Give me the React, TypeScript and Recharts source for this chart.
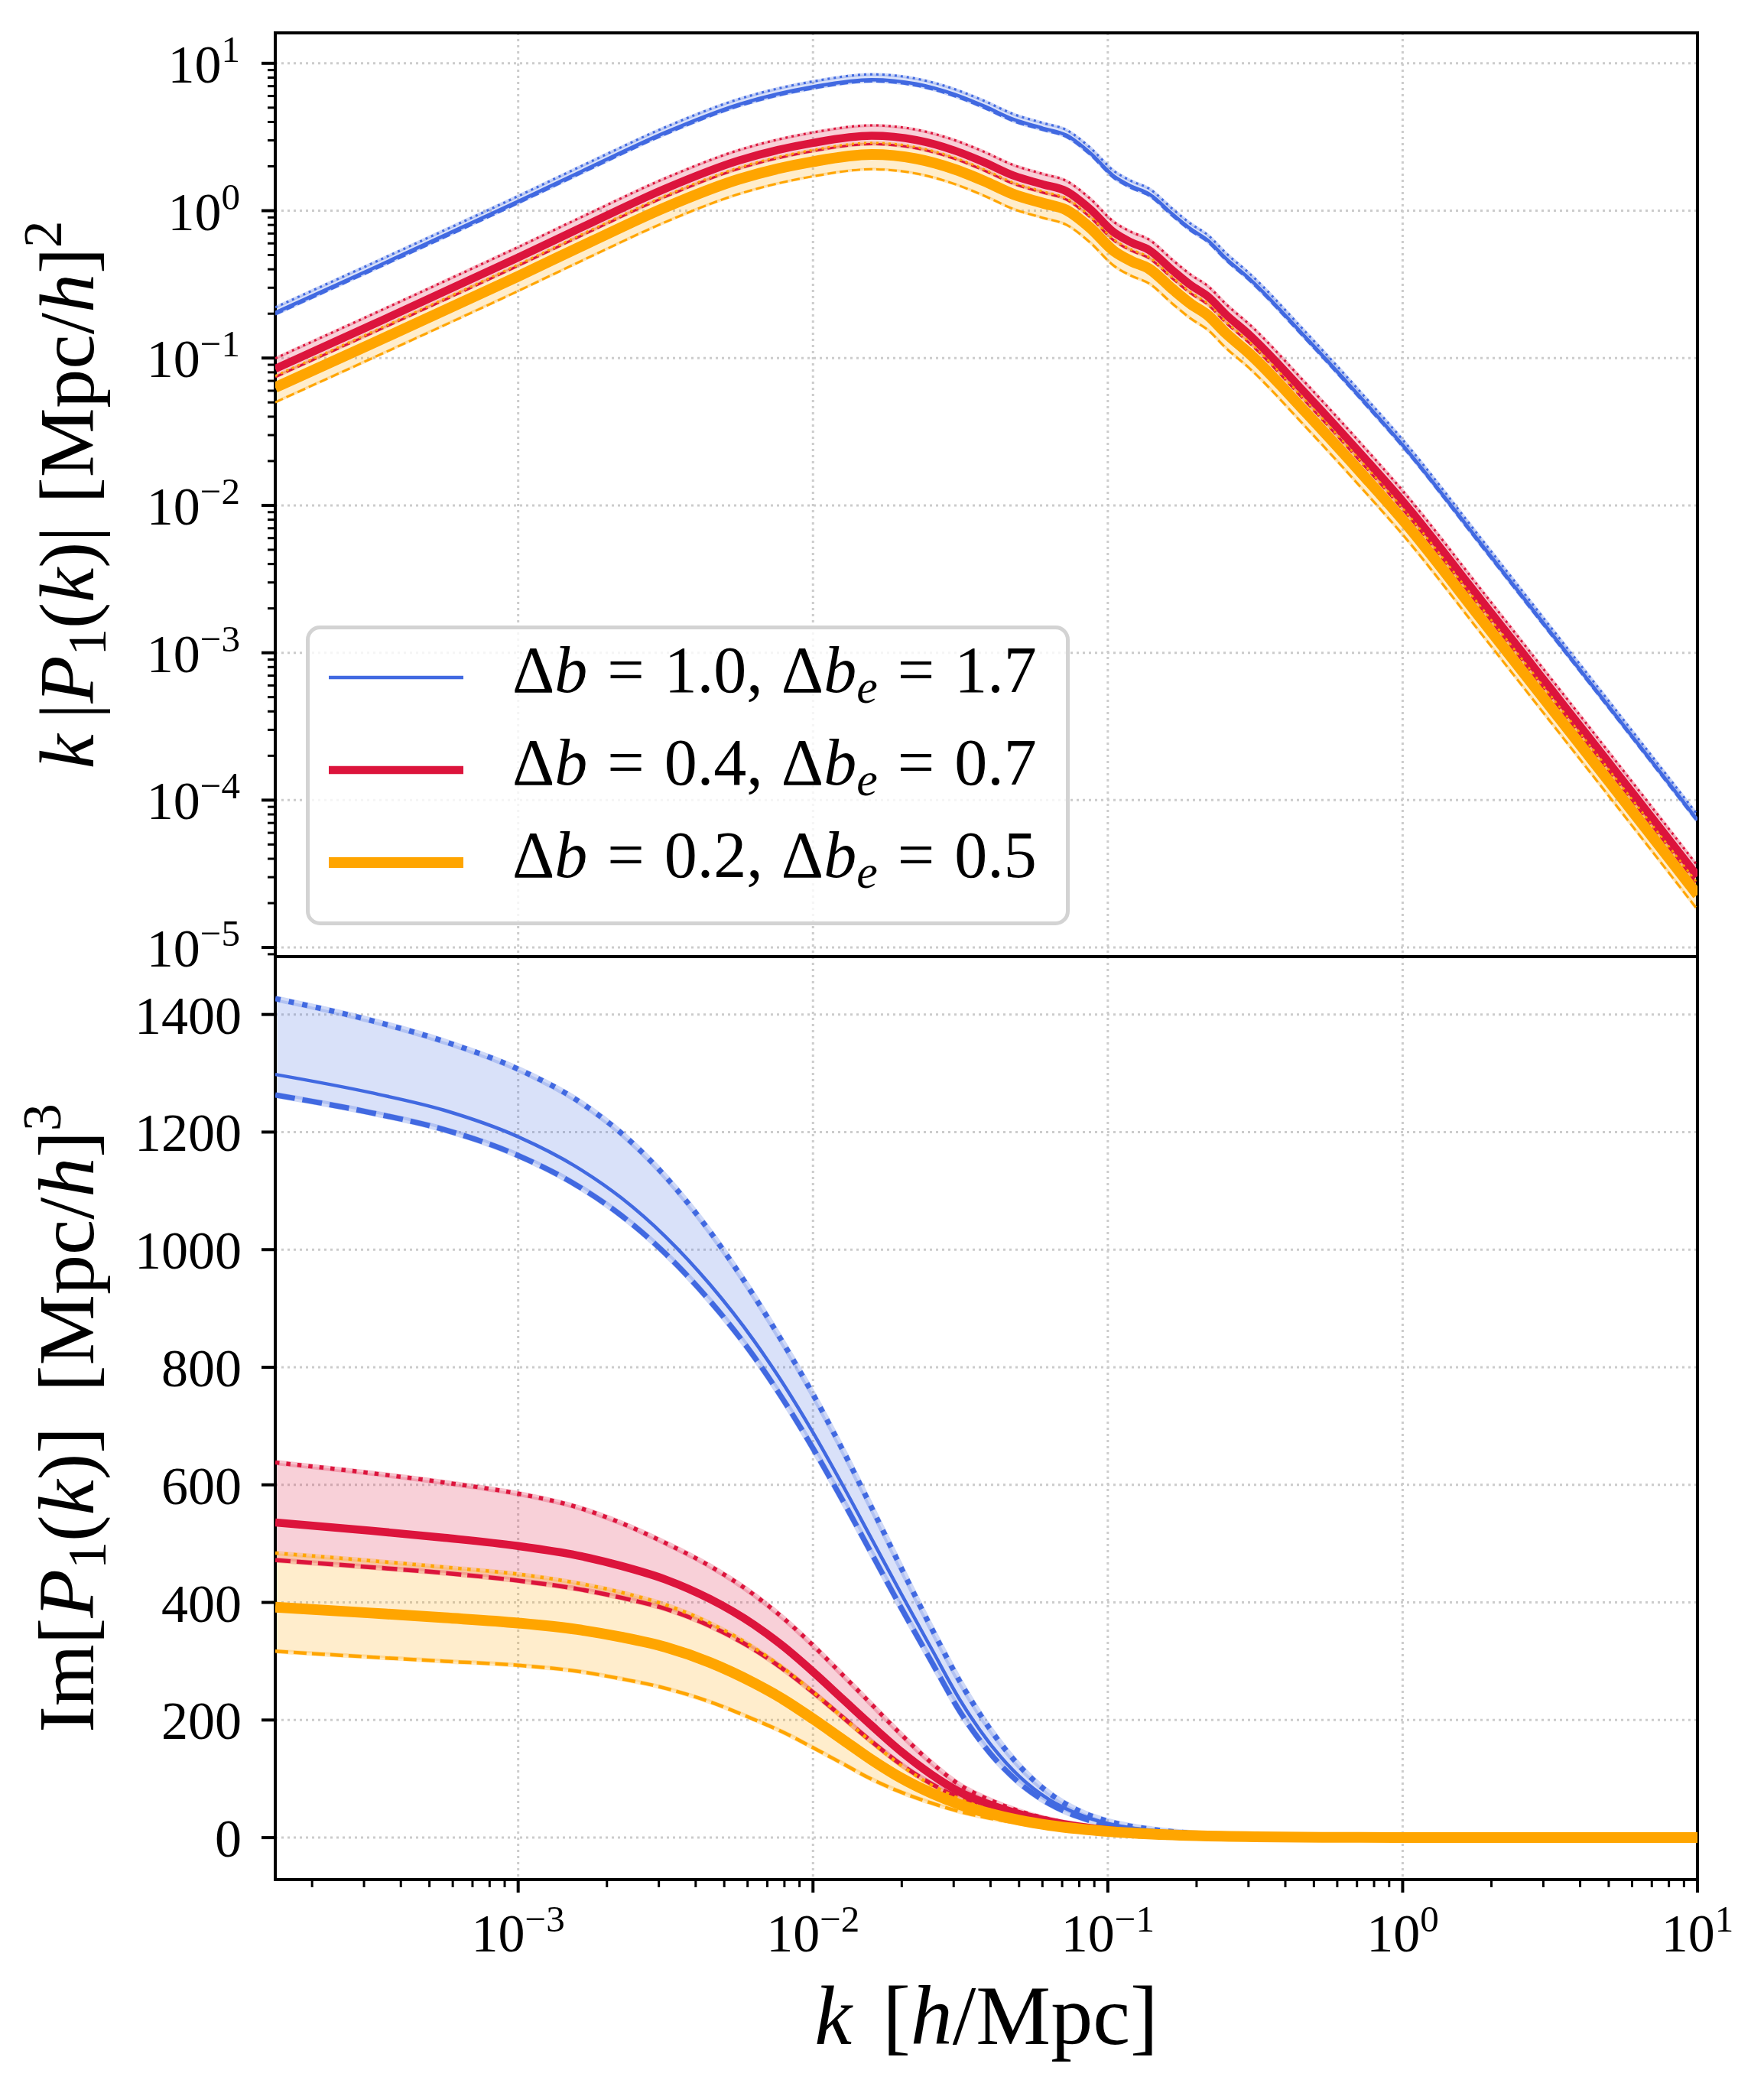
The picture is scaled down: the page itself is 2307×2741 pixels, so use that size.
import React from "react";
import {
  ComposedChart,
  Line,
  Area,
  XAxis,
  YAxis,
  CartesianGrid,
  ReferenceArea,
  Legend,
  Label,
} from "recharts";

const FONT = "'Liberation Serif', 'DejaVu Serif', serif";
const BLUE = "#4169E1";
const RED = "#DC143C";
const ORANGE = "#FFA500";

const K_MIN = 1.5e-4;
const K_MAX = 10;
const TOP_Y_DOMAIN = [8.67e-6, 16.09];
const BOTTOM_Y_DOMAIN = [-71.4, 1498.4];

// layout (page pixels)
const W = 2307;
const PLOT_LEFT = 360;
const RIGHT_GAP = 87;
const PLOT_TOP = 43;
const SPLIT = 1251;
const PLOT_BOTTOM = 2458;
const PAGE_H = 2741;
const TOP_OVERHANG = 60; // room for the 10^-5 label below the split

// ---- top panel: k |P1(k)| (log10 values) ----
const kTop = [
  1.5e-4, 3.16e-4, 1.0e-3, 1.78e-3, 3.16e-3, 5.62e-3, 1.0e-2, 1.58e-2, 2.24e-2, 3.02e-2,
  3.8e-2, 4.79e-2, 6.03e-2, 7.24e-2, 8.71e-2, 0.105, 0.12, 0.138, 0.166, 0.191,
  0.219, 0.251, 0.302, 0.468, 0.741, 1.0, 1.86, 2.95, 4.68, 7.41, 10,
];
const topBlueHiLog = [
  -0.656, -0.362, 0.099, 0.337, 0.567, 0.758, 0.877, 0.925, 0.896, 0.825,
  0.746, 0.655, 0.595, 0.548, 0.428, 0.269, 0.202, 0.15, 0.011, -0.088,
  -0.167, -0.286, -0.425, -0.822, -1.259, -1.554, -2.234, -2.744, -3.254, -3.764, -4.099,
];
const topBlueMidLog = [
  -0.692, -0.398, 0.063, 0.301, 0.531, 0.722, 0.841, 0.889, 0.86, 0.789,
  0.71, 0.619, 0.559, 0.512, 0.392, 0.233, 0.166, 0.114, -0.025, -0.124,
  -0.203, -0.322, -0.461, -0.858, -1.295, -1.59, -2.27, -2.78, -3.29, -3.8, -4.135,
];
const topBlueLoLog = [
  -0.704, -0.41, 0.051, 0.289, 0.519, 0.71, 0.829, 0.877, 0.848, 0.777,
  0.698, 0.607, 0.547, 0.5, 0.38, 0.221, 0.154, 0.102, -0.037, -0.136,
  -0.215, -0.334, -0.473, -0.87, -1.307, -1.602, -2.282, -2.792, -3.302, -3.812, -4.147,
];
const topRedHiLog = [
  -1.002, -0.708, -0.247, -0.009, 0.221, 0.412, 0.531, 0.579, 0.55, 0.479,
  0.4, 0.309, 0.249, 0.202, 0.082, -0.077, -0.144, -0.196, -0.335, -0.434,
  -0.513, -0.632, -0.771, -1.168, -1.605, -1.9, -2.58, -3.09, -3.6, -4.11, -4.445,
];
const topRedMidLog = [
  -1.073, -0.779, -0.318, -0.08, 0.15, 0.341, 0.46, 0.508, 0.479, 0.408,
  0.329, 0.238, 0.178, 0.131, 0.011, -0.148, -0.215, -0.267, -0.406, -0.505,
  -0.584, -0.703, -0.842, -1.239, -1.676, -1.971, -2.651, -3.161, -3.671, -4.181, -4.516,
];
const topRedLoLog = [
  -1.129, -0.835, -0.374, -0.136, 0.094, 0.285, 0.404, 0.452, 0.423, 0.352,
  0.273, 0.182, 0.122, 0.075, -0.045, -0.204, -0.271, -0.323, -0.462, -0.561,
  -0.64, -0.759, -0.898, -1.295, -1.732, -2.027, -2.707, -3.217, -3.727, -4.237, -4.572,
];
const topOrangeHiLog = [
  -1.121, -0.827, -0.366, -0.128, 0.102, 0.293, 0.412, 0.46, 0.431, 0.36,
  0.281, 0.19, 0.13, 0.083, -0.037, -0.196, -0.263, -0.315, -0.454, -0.553,
  -0.632, -0.751, -0.89, -1.287, -1.724, -2.019, -2.699, -3.209, -3.719, -4.229, -4.564,
];
const topOrangeMidLog = [
  -1.2, -0.906, -0.445, -0.207, 0.023, 0.214, 0.333, 0.381, 0.352, 0.281,
  0.202, 0.111, 0.051, 0.004, -0.116, -0.275, -0.342, -0.394, -0.533, -0.632,
  -0.711, -0.83, -0.969, -1.366, -1.803, -2.098, -2.778, -3.288, -3.798, -4.308, -4.643,
];
const topOrangeLoLog = [
  -1.3, -1.006, -0.545, -0.307, -0.077, 0.114, 0.233, 0.281, 0.252, 0.181,
  0.102, 0.011, -0.049, -0.096, -0.216, -0.375, -0.442, -0.494, -0.633, -0.732,
  -0.811, -0.93, -1.069, -1.466, -1.903, -2.198, -2.878, -3.388, -3.898, -4.408, -4.743,
];

// ---- bottom panel: Im[P1(k)] ----
const kBottom = [
  1.5e-4, 3.162e-4, 5.623e-4, 1e-3, 1.585e-3, 2.239e-3, 3.162e-3, 4.467e-3, 6.31e-3, 7.943e-3,
  1e-2, 1.259e-2, 1.585e-2, 1.995e-2, 2.512e-2, 3.162e-2, 3.981e-2, 5.012e-2, 6.31e-2, 7.943e-2,
  0.1, 0.1413, 0.1995, 0.3162, 0.5623, 1, 3.162, 10,
];
const imBlueHi = [
  1427, 1390, 1354, 1307, 1254, 1198, 1124, 1031, 921, 840,
  754, 660, 560, 458, 358, 264, 185, 122, 76, 46,
  28, 14, 7, 3, 1.2, 0.5, 0, 0,
];
const imBlueMid = [
  1298, 1267, 1237, 1192, 1140, 1088, 1022, 941, 845, 771,
  689, 600, 507, 414, 323, 233, 160, 104, 65, 40,
  24, 12, 6, 2.5, 1, 0.4, 0, 0,
];
const imBlueLo = [
  1263, 1233, 1204, 1160, 1109, 1058, 993, 913, 818, 744,
  662, 574, 482, 390, 301, 213, 144, 93, 58, 35.5,
  21, 10.5, 5.2, 2.2, 0.9, 0.35, 0, 0,
];
const imRedHi = [
  638, 620, 604, 585, 562, 535, 501, 462, 413, 373,
  327, 277, 226, 175, 128, 89, 64, 45, 31.5, 21.5,
  15, 8.7, 5.1, 2.2, 0.9, 0.3, 0, 0,
];
const imRedMid = [
  536, 522, 510, 496, 480, 462, 439, 406, 362, 325,
  282, 236, 190, 146, 108, 77, 56, 40, 28, 19,
  13, 7.5, 4.5, 2, 0.8, 0.3, 0, 0,
];
const imRedLo = [
  472, 460, 450, 437, 423, 408, 389, 360, 320, 286,
  247, 205, 163, 124, 92, 67, 49, 35, 24.5, 16.5,
  11.5, 6.5, 3.9, 1.7, 0.7, 0.3, 0, 0,
];
const imOrangeHi = [
  484, 471, 460, 448, 433, 417, 396, 365, 323, 288,
  248, 205, 162, 122.5, 90, 65, 47, 33, 22.5, 15,
  10.5, 6, 3.6, 1.6, 0.7, 0.3, 0, 0,
];
const imOrangeMid = [
  392, 382, 374, 365, 354, 341, 324, 298, 263, 235,
  202, 167, 132, 101, 76, 56, 41, 29.5, 21, 15,
  10.5, 6, 3.3, 1.4, 0.5, 0.2, 0, 0,
];
const imOrangeLo = [
  317, 307, 300, 293, 283, 270, 254, 231, 201, 179,
  153, 126, 99, 77, 59, 44, 33, 24.5, 17.5, 12.5,
  9, 5, 2.8, 1.2, 0.4, 0.2, 0, 0,
];

// ---- ticks and legend text ----
const xMajor = [1e-3, 1e-2, 1e-1, 1, 10];
const xMinor = [-4, -3, -2, -1, 0]
  .flatMap((e) => [2, 3, 4, 5, 6, 7, 8, 9].map((m) => m * Math.pow(10, e)))
  .filter((v) => v >= K_MIN);
const xTicks = [...xMajor, ...xMinor].sort((a, b) => a - b);
const yTopMajor = [1e-5, 1e-4, 1e-3, 1e-2, 1e-1, 1, 10];
const yTopMinor = [-6, -5, -4, -3, -2, -1, 0]
  .flatMap((e) => [2, 3, 4, 5, 6, 7, 8, 9].map((m) => m * Math.pow(10, e)))
  .filter((v) => v >= TOP_Y_DOMAIN[0] && v <= TOP_Y_DOMAIN[1]);
const yTopTicks = [...yTopMajor, ...yTopMinor].sort((a, b) => a - b);
const yBottomTicks = [0, 200, 400, 600, 800, 1000, 1200, 1400];

const legendDb = ["1.0", "0.4", "0.2"];
const legendDbe = ["1.7", "0.7", "0.5"];
const legendColors = [BLUE, RED, ORANGE];
const legendWidths = [4.5, 10.5, 14];

const up = (v: number) => Math.pow(10, v);

const topRows = kTop.map((k, i) => ({
  k,
  bHi: up(topBlueHiLog[i]),
  bMid: up(topBlueMidLog[i]),
  bLo: up(topBlueLoLog[i]),
  rHi: up(topRedHiLog[i]),
  rMid: up(topRedMidLog[i]),
  rLo: up(topRedLoLog[i]),
  oHi: up(topOrangeHiLog[i]),
  oMid: up(topOrangeMidLog[i]),
  oLo: up(topOrangeLoLog[i]),
  bBand: [up(topBlueLoLog[i]), up(topBlueHiLog[i])],
  rBand: [up(topRedLoLog[i]), up(topRedHiLog[i])],
  oBand: [up(topOrangeLoLog[i]), up(topOrangeHiLog[i])],
}));

const bottomRows = kBottom.map((k, i) => ({
  k,
  bHi: imBlueHi[i],
  bMid: imBlueMid[i],
  bLo: imBlueLo[i],
  rHi: imRedHi[i],
  rMid: imRedMid[i],
  rLo: imRedLo[i],
  oHi: imOrangeHi[i],
  oMid: imOrangeMid[i],
  oLo: imOrangeLo[i],
  bBand: [imBlueLo[i], imBlueHi[i]],
  rBand: [imRedLo[i], imRedHi[i]],
  oBand: [imOrangeLo[i], imOrangeHi[i]],
}));

const isDecade = (v: number) => {
  const e = Math.log10(v);
  return Math.abs(e - Math.round(e)) < 1e-6;
};
const expText = (v: number) => {
  const e = Math.round(Math.log10(v));
  return e < 0 ? `\u2212${-e}` : `${e}`;
};

const TICK_FS = 70;
const SUP_FS = 49;

const LogYTick = (props: any) => {
  const { x, y, payload } = props;
  const major = isDecade(payload.value);
  return (
    <g>
      <line x1={x - (major ? 18 : 10)} x2={x} y1={y} y2={y} stroke="#000" strokeWidth={major ? 4 : 3} />
      {major && (
        <text x={x - 46} y={y + 25} textAnchor="end" fontFamily={FONT} fontSize={TICK_FS} fill="#000">
          10
          <tspan dy={-27} fontSize={SUP_FS}>
            {expText(payload.value)}
          </tspan>
        </text>
      )}
    </g>
  );
};

const LinYTick = (props: any) => {
  const { x, y, payload } = props;
  return (
    <g>
      <line x1={x - 18} x2={x} y1={y} y2={y} stroke="#000" strokeWidth={4} />
      <text x={x - 44} y={y + 25} textAnchor="end" fontFamily={FONT} fontSize={TICK_FS} fill="#000">
        {payload.value}
      </text>
    </g>
  );
};

const LogXTick = (props: any) => {
  const { x, y, payload } = props;
  const major = isDecade(payload.value);
  return (
    <g>
      <line x1={x} x2={x} y1={y} y2={y + (major ? 17 : 10)} stroke="#000" strokeWidth={major ? 4 : 3} />
      {major && (
        <text x={x} y={y + 94} textAnchor="middle" fontFamily={FONT} fontSize={TICK_FS} fill="#000">
          10
          <tspan dy={-26} fontSize={SUP_FS}>
            {expText(payload.value)}
          </tspan>
        </text>
      )}
    </g>
  );
};

const TITLE_X = 122;

const TopYTitle = () => (
  <text
    transform={`translate(${TITLE_X}, ${(PLOT_TOP + SPLIT) / 2}) rotate(-90)`}
    textAnchor="middle"
    fontFamily={FONT}
    fontSize={102}
    fill="#000"
  >
    <tspan fontStyle="italic">k</tspan>
    <tspan dx={20}>|</tspan>
    <tspan fontStyle="italic">P</tspan>
    <tspan fontSize={71} dy={16}>1</tspan>
    <tspan dy={-16}>(</tspan>
    <tspan fontStyle="italic">k</tspan>
    <tspan>)|</tspan>
    <tspan dx={30}>[Mpc/</tspan>
    <tspan fontStyle="italic">h</tspan>
    <tspan>]</tspan>
    <tspan fontSize={71} dy={-42}>2</tspan>
  </text>
);

const BottomYTitle = () => (
  <text
    transform={`translate(${TITLE_X}, ${(PLOT_BOTTOM - SPLIT) / 2}) rotate(-90)`}
    textAnchor="middle"
    fontFamily={FONT}
    fontSize={104}
    fill="#000"
  >
    <tspan>Im[</tspan>
    <tspan fontStyle="italic">P</tspan>
    <tspan fontSize={72} dy={16}>1</tspan>
    <tspan dy={-16}>(</tspan>
    <tspan fontStyle="italic">k</tspan>
    <tspan>)]</tspan>
    <tspan dx={46}>[Mpc/</tspan>
    <tspan fontStyle="italic">h</tspan>
    <tspan>]</tspan>
    <tspan fontSize={72} dy={-43}>3</tspan>
  </text>
);

const XTitle = () => (
  <text
    x={(PLOT_LEFT + W - RIGHT_GAP) / 2}
    y={2673 - SPLIT}
    textAnchor="middle"
    fontFamily={FONT}
    fontSize={110}
    fill="#000"
  >
    <tspan fontStyle="italic">k</tspan>
    <tspan dx={40}>[</tspan>
    <tspan fontStyle="italic">h</tspan>
    <tspan>/Mpc]</tspan>
  </text>
);

const LegendBox = () => (
  <svg width={999} height={392} style={{ display: "block" }}>
    <rect x={2.5} y={2.5} width={994} height={387} rx={16} ry={16} fill="rgba(255,255,255,0.8)" stroke="#d3d3d3" strokeWidth={5} />
    {legendDb.map((db, i) => {
      const cy = 68 + i * 121;
      return (
        <g key={db}>
          <line x1={30} x2={206} y1={cy} y2={cy} stroke={legendColors[i]} strokeWidth={legendWidths[i]} />
          <text x={270} y={cy + 19} fontFamily={FONT} fontSize={86} fill="#000">
            <tspan>Δ</tspan>
            <tspan fontStyle="italic">b</tspan>
            <tspan dx={26}>=</tspan>
            <tspan dx={26}>{db},</tspan>
            <tspan dx={24}>Δ</tspan>
            <tspan fontStyle="italic">b</tspan>
            <tspan fontStyle="italic" fontSize={62} dy={14}>e</tspan>
            <tspan dy={-14} dx={26}>=</tspan>
            <tspan dx={26}>{legendDbe[i]}</tspan>
          </text>
        </g>
      );
    })}
  </svg>
);

const gridProps = {
  stroke: "#cccccc",
  strokeWidth: 3,
  strokeDasharray: "3 5",
};

const App = () => (
  <div style={{ position: "absolute", left: 0, top: 0, width: W, height: PAGE_H, background: "#fff" }}>
    <div style={{ position: "absolute", left: 0, top: SPLIT }}>
      <ComposedChart
        width={W}
        height={PAGE_H - SPLIT}
        data={bottomRows}
        margin={{ top: 0, right: RIGHT_GAP, bottom: 0, left: 0 }}
      >
        <CartesianGrid {...gridProps} verticalValues={xMajor} horizontalValues={yBottomTicks} />
        <XAxis
          type="number"
          dataKey="k"
          scale="log"
          domain={[K_MIN, K_MAX]}
          allowDataOverflow
          ticks={xTicks}
          interval={0}
          height={PAGE_H - PLOT_BOTTOM}
          tickSize={0}
          tickMargin={0}
          tickLine={false}
          axisLine={false}
          tick={(p: any) => <LogXTick {...p} />}
        >
          <Label content={() => <XTitle />} />
        </XAxis>
        <YAxis
          type="number"
          domain={BOTTOM_Y_DOMAIN}
          allowDataOverflow
          ticks={yBottomTicks}
          interval={0}
          width={PLOT_LEFT}
          tickSize={0}
          tickMargin={0}
          tickLine={false}
          axisLine={false}
          tick={(p: any) => <LinYTick {...p} />}
        >
          <Label content={() => <BottomYTitle />} />
        </YAxis>

        <Area dataKey="bBand" type="monotone" fill={BLUE} fillOpacity={0.2} stroke={BLUE} strokeOpacity={0.25} strokeWidth={8} isAnimationActive={false} />
        <Area dataKey="rBand" type="monotone" fill={RED} fillOpacity={0.2} stroke={RED} strokeOpacity={0.25} strokeWidth={7} isAnimationActive={false} />
        <Area dataKey="oBand" type="monotone" fill={ORANGE} fillOpacity={0.2} stroke={ORANGE} strokeOpacity={0.25} strokeWidth={6} isAnimationActive={false} />

        <Line dataKey="bHi" type="monotone" stroke={BLUE} strokeWidth={7} strokeDasharray="7 11" dot={false} isAnimationActive={false} />
        <Line dataKey="bLo" type="monotone" stroke={BLUE} strokeWidth={7} strokeDasharray="26 10" dot={false} isAnimationActive={false} />
        <Line dataKey="bMid" type="monotone" stroke={BLUE} strokeWidth={4.5} dot={false} isAnimationActive={false} />
        <Line dataKey="rHi" type="monotone" stroke={RED} strokeWidth={5.5} strokeDasharray="5.5 9" dot={false} isAnimationActive={false} />
        <Line dataKey="rLo" type="monotone" stroke={RED} strokeWidth={5.5} strokeDasharray="20 8" dot={false} isAnimationActive={false} />
        <Line dataKey="rMid" type="monotone" stroke={RED} strokeWidth={10.5} dot={false} isAnimationActive={false} />
        <Line dataKey="oHi" type="monotone" stroke={ORANGE} strokeWidth={4.5} strokeDasharray="4.5 7.5" dot={false} isAnimationActive={false} />
        <Line dataKey="oLo" type="monotone" stroke={ORANGE} strokeWidth={4.5} strokeDasharray="17 7" dot={false} isAnimationActive={false} />
        <Line dataKey="oMid" type="monotone" stroke={ORANGE} strokeWidth={14} dot={false} isAnimationActive={false} />

        <ReferenceArea
          x1={K_MIN}
          x2={K_MAX}
          y1={BOTTOM_Y_DOMAIN[0]}
          y2={BOTTOM_Y_DOMAIN[1]}
          fill="none"
          stroke="#000"
          strokeWidth={4}
          ifOverflow="visible"
        />
      </ComposedChart>
    </div>

    <div style={{ position: "absolute", left: 0, top: 0 }}>
      <ComposedChart
        width={W}
        height={SPLIT + TOP_OVERHANG}
        data={topRows}
        margin={{ top: PLOT_TOP, right: RIGHT_GAP, bottom: TOP_OVERHANG, left: 0 }}
      >
        <CartesianGrid {...gridProps} verticalValues={xMajor} horizontalValues={yTopMajor} />
        <XAxis
          type="number"
          dataKey="k"
          scale="log"
          domain={[K_MIN, K_MAX]}
          allowDataOverflow
          ticks={xMajor}
          hide
        />
        <YAxis
          type="number"
          scale="log"
          domain={TOP_Y_DOMAIN}
          allowDataOverflow
          ticks={yTopTicks}
          interval={0}
          width={PLOT_LEFT}
          tickSize={0}
          tickMargin={0}
          tickLine={false}
          axisLine={false}
          tick={(p: any) => <LogYTick {...p} />}
        >
          <Label content={() => <TopYTitle />} />
        </YAxis>

        <Area dataKey="bBand" type="monotone" fill={BLUE} fillOpacity={0.2} stroke={BLUE} strokeOpacity={0.25} strokeWidth={4} isAnimationActive={false} />
        <Area dataKey="rBand" type="monotone" fill={RED} fillOpacity={0.2} stroke={RED} strokeOpacity={0.25} strokeWidth={4} isAnimationActive={false} />
        <Area dataKey="oBand" type="monotone" fill={ORANGE} fillOpacity={0.2} stroke={ORANGE} strokeOpacity={0.25} strokeWidth={4} isAnimationActive={false} />

        <Line dataKey="bHi" type="monotone" stroke={BLUE} strokeWidth={3} strokeDasharray="3 5" dot={false} isAnimationActive={false} />
        <Line dataKey="bLo" type="monotone" stroke={BLUE} strokeWidth={3} strokeDasharray="11 5" dot={false} isAnimationActive={false} />
        <Line dataKey="bMid" type="monotone" stroke={BLUE} strokeWidth={4.5} dot={false} isAnimationActive={false} />
        <Line dataKey="rHi" type="monotone" stroke={RED} strokeWidth={3} strokeDasharray="3 5" dot={false} isAnimationActive={false} />
        <Line dataKey="rLo" type="monotone" stroke={RED} strokeWidth={3} strokeDasharray="11 5" dot={false} isAnimationActive={false} />
        <Line dataKey="rMid" type="monotone" stroke={RED} strokeWidth={10.5} dot={false} isAnimationActive={false} />
        <Line dataKey="oHi" type="monotone" stroke={ORANGE} strokeWidth={3} strokeDasharray="3 5" dot={false} isAnimationActive={false} />
        <Line dataKey="oLo" type="monotone" stroke={ORANGE} strokeWidth={3} strokeDasharray="11 5" dot={false} isAnimationActive={false} />
        <Line dataKey="oMid" type="monotone" stroke={ORANGE} strokeWidth={14} dot={false} isAnimationActive={false} />

        <ReferenceArea
          x1={K_MIN}
          x2={K_MAX}
          y1={TOP_Y_DOMAIN[0]}
          y2={TOP_Y_DOMAIN[1]}
          fill="none"
          stroke="#000"
          strokeWidth={4}
          ifOverflow="visible"
        />
        <Legend
          verticalAlign="middle"
          align="center"
          layout="horizontal"
          wrapperStyle={{ left: 400, top: 818, width: 999, height: 392 }}
          content={() => <LegendBox />}
        />
      </ComposedChart>
    </div>
  </div>
);

export default App;
